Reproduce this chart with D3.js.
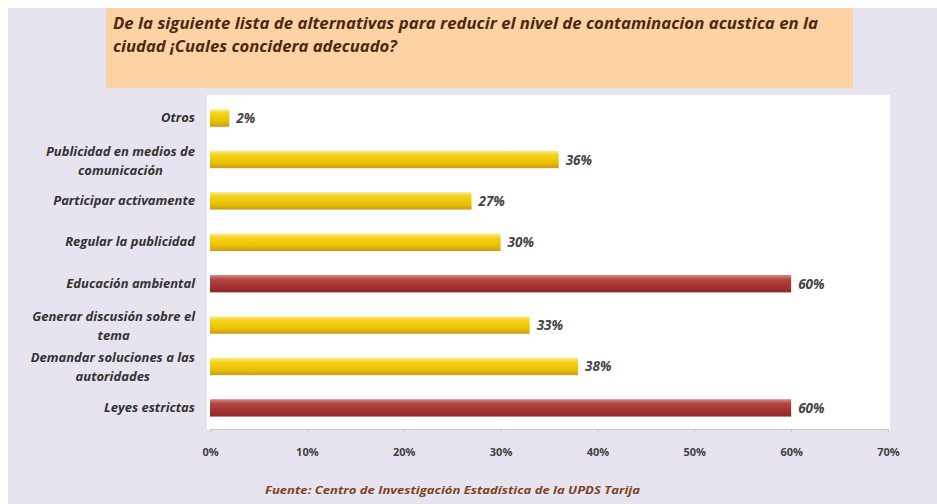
<!DOCTYPE html>
<html>
<head>
<meta charset="utf-8">
<script src="https://cdn.jsdelivr.net/npm/d3@7"></script>
<style>
  body { margin: 0; background: #fff; }
  svg { display: block; }
</style>
</head>
<body>
<svg id="chart"></svg>
<script>
const categories = [
  "Otros",
  "Publicidad en medios de comunicación",
  "Participar activamente",
  "Regular la publicidad",
  "Educación ambiental",
  "Generar discusión sobre el tema",
  "Demandar soluciones a las autoridades",
  "Leyes estrictas"
];
const values = [2, 36, 27, 30, 60, 33, 38, 60];
const highlighted = ["Educación ambiental", "Leyes estrictas"];
const tickValues = [0, 10, 20, 30, 40, 50, 60, 70];
const titleLines = [
  "De la siguiente lista de alternativas para reducir el nivel de contaminacion acustica en la",
  "ciudad ¡Cuales concidera adecuado?"
];
const sourceText = "Fuente: Centro de Investigación Estadística de la UPDS Tarija";

const width = 937;
const height = 504;
const font = "'Open Sans', 'Liberation Sans', sans-serif";

const svg = d3.select("#chart").attr("width", width).attr("height", height);

// gradients for the bars
const defs = svg.append("defs");
function gradient(id, stops) {
  const g = defs.append("linearGradient").attr("id", id)
    .attr("x1", 0).attr("y1", 0).attr("x2", 0).attr("y2", 1);
  stops.forEach(s => g.append("stop").attr("offset", s[0]).attr("stop-color", s[1]));
}
gradient("yellowGrad", [[0, "#fbe98a"], [0.25, "#f6d21a"], [0.7, "#e9c000"], [1, "#c99a1e"]]);
gradient("redGrad", [[0, "#d98a86"], [0.25, "#b24744"], [0.7, "#a1302f"], [1, "#8a2a28"]]);

// background
svg.append("rect").attr("x", 8).attr("y", 8).attr("width", width - 8).attr("height", height - 8)
  .attr("fill", "#e7e3ef");

// title box
svg.append("rect").attr("x", 106).attr("y", 8).attr("width", 747).attr("height", 80)
  .attr("fill", "#fdd3a6");
const titleWidths = [705, 284];
svg.append("g").selectAll("text")
  .data(titleLines)
  .enter()
  .append("text")
  .attr("x", 113)
  .attr("y", (d, i) => 29 + i * 23)
  .attr("font-family", font)
  .attr("font-size", 15.5)
  .attr("font-weight", "bold")
  .attr("font-style", "italic")
  .attr("fill", "#4a2a12")
  .attr("textLength", (d, i) => titleWidths[i])
  .attr("lengthAdjust", "spacingAndGlyphs")
  .text(d => d);

// plot area
const plot = { left: 207, top: 95, right: 890, bottom: 430 };
svg.append("rect").attr("x", plot.left).attr("y", plot.top)
  .attr("width", plot.right - plot.left).attr("height", plot.bottom - plot.top)
  .attr("fill", "#ffffff");

const x = d3.scaleLinear().domain([0, 70]).range([210, 888]);
const y = d3.scaleBand().domain(categories).range([plot.top + 2, plot.bottom - 1])
  .paddingInner(0.58).paddingOuter(0.3);

// x axis
const xAxis = svg.append("g")
  .attr("transform", `translate(0,${plot.bottom - 1})`)
  .call(d3.axisBottom(x).tickValues(tickValues).tickSize(3).tickFormat(d => d + "%"));
xAxis.select(".domain").attr("stroke", "#c8c8c8");
xAxis.selectAll(".tick line").attr("stroke", "#c8c8c8");
xAxis.selectAll("text")
  .attr("dy", 0)
  .attr("y", 27)
  .attr("font-family", font)
  .attr("font-size", 11)
  .attr("font-weight", "bold")
  .attr("fill", "#404040");

// bars
const data = categories.map((c, i) => ({ name: c, value: values[i] }));
svg.append("g").selectAll("rect")
  .data(data)
  .enter()
  .append("rect")
  .attr("x", x(0))
  .attr("y", d => y(d.name))
  .attr("width", d => x(d.value) - x(0))
  .attr("height", y.bandwidth())
  .attr("fill", d => highlighted.includes(d.name) ? "url(#redGrad)" : "url(#yellowGrad)");

// value labels
svg.append("g").selectAll("text")
  .data(data)
  .enter()
  .append("text")
  .attr("x", d => x(d.value) + 7)
  .attr("y", d => y(d.name) + y.bandwidth() / 2 + 5)
  .attr("font-family", font)
  .attr("font-size", 13.5)
  .attr("font-weight", "bold")
  .attr("font-style", "italic")
  .attr("fill", "#444")
  .text(d => d.value + "%");

// category labels, wrapped to two lines when long
function wrapLabel(s) {
  const map = {
    "Publicidad en medios de comunicación": ["Publicidad en medios de", "comunicación"],
    "Generar discusión sobre el tema": ["Generar discusión sobre el", "tema"],
    "Demandar soluciones a las autoridades": ["Demandar soluciones a las", "autoridades"]
  };
  return map[s] || [s];
}
const labelRight = 195;
const labels = svg.append("g").selectAll("text")
  .data(data)
  .enter()
  .append("text")
  .attr("text-anchor", "middle")
  .attr("font-family", font)
  .attr("font-size", 13)
  .attr("font-weight", "bold")
  .attr("font-style", "italic")
  .attr("fill", "#333");
labels.each(function (d) {
  const lines = wrapLabel(d.name);
  const cy = y(d.name) + y.bandwidth() / 2;
  const t = d3.select(this);
  if (lines.length === 1) {
    t.attr("text-anchor", "end");
    t.append("tspan").attr("x", labelRight).attr("y", cy + 4).text(lines[0]);
  } else {
    const spans = lines.map((l, i) =>
      t.append("tspan").attr("y", cy - 4 + i * 19).text(l));
    const w = d3.max(spans, s => s.node().getComputedTextLength());
    spans.forEach(s => s.attr("x", labelRight - w / 2));
  }
});

// source
svg.append("text")
  .attr("x", 265)
  .attr("y", 494)
  .attr("font-family", font)
  .attr("font-size", 11)
  .attr("font-weight", "bold")
  .attr("font-style", "italic")
  .attr("fill", "#7a4524")
  .attr("textLength", 375)
  .attr("lengthAdjust", "spacingAndGlyphs")
  .text(sourceText);
</script>
</body>
</html>
